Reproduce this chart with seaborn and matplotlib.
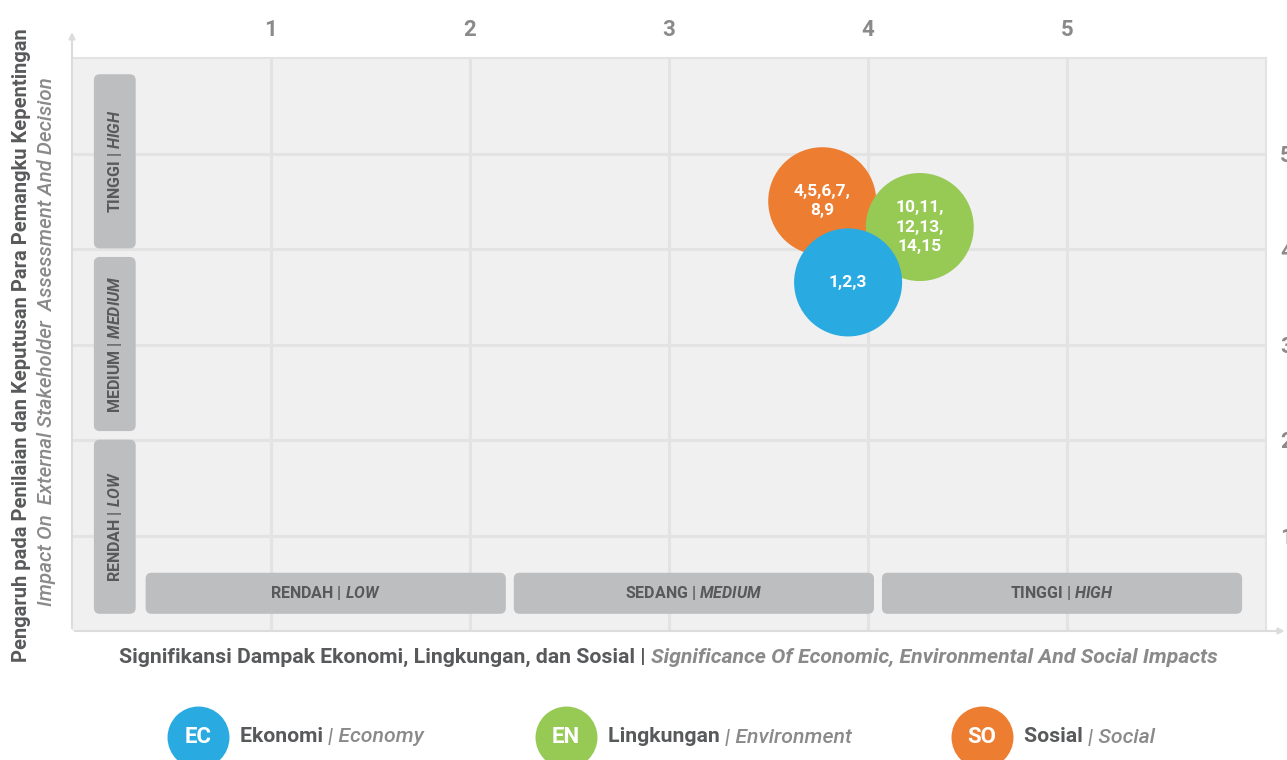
import seaborn as sns
import matplotlib.pyplot as plt
import pandas as pd
from matplotlib.patches import FancyBboxPatch

# bubbles (draw order: orange, green, blue on top)
groups = ["Sosial", "Lingkungan", "Ekonomi"]
codes = ["SO", "EN", "EC"]
significance = [3.77, 4.26, 3.90]
influence = [4.50, 4.23, 3.65]
topics = ["4,5,6,7,\n8,9", "10,11,\n12,13,\n14,15", "1,2,3"]
palette = {"Sosial": "#ED7D31", "Lingkungan": "#97C955", "Ekonomi": "#29ABE2"}

ticks = [1, 2, 3, 4, 5]
x_levels = [("RENDAH", "LOW"), ("SEDANG", "MEDIUM"), ("TINGGI", "HIGH")]
y_levels = [("RENDAH", "LOW"), ("MEDIUM", "MEDIUM"), ("TINGGI", "HIGH")]

legend_items = [("EC", "Ekonomi", "Economy"),
                ("EN", "Lingkungan", "Environment"),
                ("SO", "Sosial", "Social")]

df = pd.DataFrame({"group": groups, "code": codes, "x": significance,
                   "y": influence, "topics": topics})

sns.set_theme(style="white")
plt.rcParams["font.family"] = ["Roboto", "DejaVu Sans"]
plt.rcParams["mathtext.fontset"] = "custom"
plt.rcParams["mathtext.it"] = "Roboto:italic:bold"
plt.rcParams["mathtext.rm"] = "Roboto:bold"

W, H = 1287, 760
fig = plt.figure(figsize=(W / 100, H / 100), dpi=100)
ax = fig.add_axes([72 / W, 129 / H, 1194 / W, 573 / H])
ax.set_facecolor("#f0f0f0")

grid_c = "#e3e3e3"
ax.set_xlim(0, 6)
ax.set_ylim(0, 6)
ax.set_xticks(ticks)
ax.set_yticks(ticks)
ax.grid(True, color=grid_c, lw=2.2)
ax.set_axisbelow(True)
ax.xaxis.tick_top()
ax.yaxis.tick_right()
ax.tick_params(axis="x", length=0, pad=12, labelsize=16, labelcolor="#8a8a8a")
ax.tick_params(axis="y", length=0, pad=10, labelsize=16, labelcolor="#8a8a8a")
for lab in ax.get_xticklabels() + ax.get_yticklabels():
    lab.set_fontweight("bold")
for s in ["top", "right"]:
    ax.spines[s].set_color(grid_c)
    ax.spines[s].set_linewidth(1.5)
for s in ["left", "bottom"]:
    ax.spines[s].set_visible(False)

# axis arrows
arrow_c = "#dcdcdc"
ax.annotate("", xy=(0, 1.05), xytext=(0, 0), xycoords="axes fraction",
            arrowprops=dict(arrowstyle="-|>", color=arrow_c, lw=1.5, mutation_scale=9),
            annotation_clip=False)
ax.annotate("", xy=(1.018, 0), xytext=(0, 0), xycoords="axes fraction",
            arrowprops=dict(arrowstyle="-|>", color=arrow_c, lw=1.5, mutation_scale=9),
            annotation_clip=False)

# level bands
band_c = "#bdbec0"
band_txt = "#58595b"
hx0, hx1, hgap = 0.37, 5.88, 0.04
hw = (hx1 - hx0 - 2 * hgap) / 3
for i, (idn, en) in enumerate(x_levels):
    x0 = hx0 + i * (hw + hgap)
    ax.add_patch(FancyBboxPatch((x0, 0.18), hw, 0.43,
                                boxstyle="round,pad=0,rounding_size=0.03",
                                mutation_aspect=2.08, fc=band_c, ec="none", zorder=2))
    ax.text(x0 + hw / 2, 0.395, idn + r" | $\mathit{" + en + "}$", ha="center",
            va="center", fontsize=11.5, fontweight="bold", color=band_txt, zorder=3)

vy0, vy1, vgap = 0.18, 5.83, 0.09
vh = (vy1 - vy0 - 2 * vgap) / 3
for i, (idn, en) in enumerate(y_levels):
    y0 = vy0 + i * (vh + vgap)
    ax.add_patch(FancyBboxPatch((0.11, y0), 0.21, vh,
                                boxstyle="round,pad=0,rounding_size=0.03",
                                mutation_aspect=2.08, fc=band_c, ec="none", zorder=2))
    ax.text(0.215, y0 + vh / 2, idn + r" | $\mathit{" + en + "}$", ha="center",
            va="center", rotation=90, fontsize=11.5, fontweight="bold",
            color=band_txt, zorder=3)

# bubbles
sns.scatterplot(data=df, x="x", y="y", hue="group", palette=palette, s=6050,
                linewidth=0, alpha=1, legend=False, ax=ax, zorder=4)
for _, r in df.iterrows():
    ax.text(r["x"], r["y"], r["topics"], ha="center", va="center", color="white",
            fontsize=12.5, fontweight="bold", zorder=5, linespacing=1.35)
ax.set_xlabel("")
ax.set_ylabel("")

# y label (two lines)
fig.text(22 / W, 1 - 345 / H,
         "Pengaruh pada Penilaian dan Keputusan Para Pemangku Kepentingan",
         rotation=90, ha="center", va="center", fontsize=14.5, fontweight="bold",
         color="#58595b")
fig.text(47 / W, 1 - 342 / H,
         "Impact On  External Stakeholder  Assessment And Decision",
         rotation=90, ha="center", va="center", fontsize=14.8, fontstyle="italic",
         fontweight="medium", color="#8a8a8a")


def put_parts(x_px, y_px, parts, center=False):
    renderer = fig.canvas.get_renderer()
    texts = [fig.text(0, 1 - y_px / H, s, va="center", ha="left", **st) for s, st in parts]
    widths = [t.get_window_extent(renderer).width for t in texts]
    x = x_px - (sum(widths) / 2 if center else 0)
    for t, w in zip(texts, widths):
        t.set_x(x / W)
        x += w


dark = dict(fontweight="bold", color="#58595b")
grey_it = dict(fontweight="bold", fontstyle="italic", color="#8a8a8a")

put_parts(668, 657, [
    ("Signifikansi Dampak Ekonomi, Lingkungan, dan Sosial | ", dict(fontsize=15.3, **dark)),
    ("Significance Of Economic, Environmental And Social Impacts", dict(fontsize=15.3, **grey_it)),
], center=True)

# legend
leg_x = [198, 566, 982]
for (code, idn, en), lx in zip(legend_items, leg_x):
    ax.scatter([lx / W], [1 - 737 / H], s=1990, color=palette[idn], linewidths=0,
               transform=fig.transFigure, clip_on=False, zorder=5)
    fig.text(lx / W, 1 - 737 / H, code, ha="center", va="center", color="white",
             fontsize=16, fontweight="bold")
    put_parts(lx + 42, 737, [
        (idn + " ", dict(fontsize=15.3, **dark)),
        ("| " + en, dict(fontsize=15.3, fontstyle="italic", color="#8a8a8a", fontweight="medium")),
    ])

fig.savefig("out.png", dpi=100)
